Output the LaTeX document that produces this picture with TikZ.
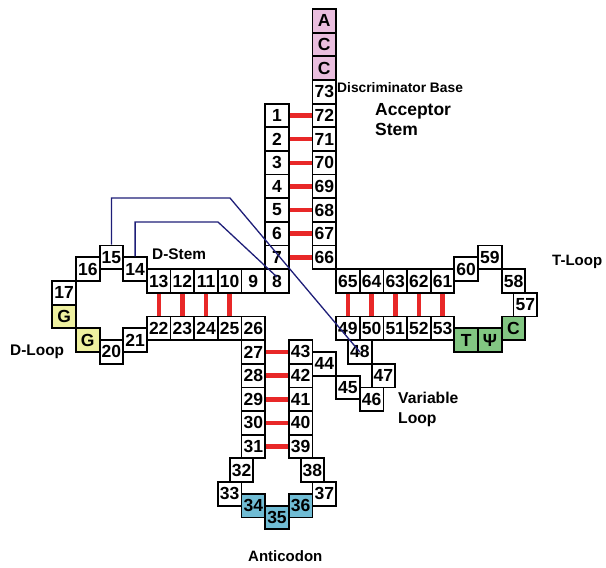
\documentclass[tikz,border=0pt]{standalone}
\usepackage{fontspec}
\setmainfont{Liberation Sans}
\definecolor{accpink}{RGB}{234,190,222}
\definecolor{gyellow}{RGB}{238,240,160}
\definecolor{tgreen}{RGB}{130,198,130}
\definecolor{acblue}{RGB}{112,188,212}
\definecolor{bondred}{RGB}{232,40,40}
\definecolor{navyline}{RGB}{30,30,120}
\tikzset{
  nbox/.style={draw=black, line width=1.8pt, fill=white, minimum size=23.65pt,
    inner sep=0pt, font=\fontsize{17.5}{17.5}\selectfont\bfseries},
  pinkb/.style={fill=accpink},
  yelb/.style={fill=gyellow},
  grnb/.style={fill=tgreen},
  blub/.style={fill=acblue},
  bond/.style={draw=bondred, line width=4.5pt},
  tert/.style={draw=navyline, line width=1.3pt},
  lbl/.style={inner sep=0pt, anchor=base west, align=left},
}
\newcommand\nb[5][]{\node[nbox,#1] (n#2) at ({277+(#3)*23.65},{281+(#4)*23.65}) {#5};}
\begin{document}
\begin{tikzpicture}[x=1pt,y=-1pt]
\useasboundingbox (0,0) rectangle (606,568);
% acceptor stem, 3' side
\nb[pinkb]{A}{2}{-11}{A}
\nb[pinkb]{C1}{2}{-10}{C}
\nb[pinkb]{C2}{2}{-9}{C}
\nb{73}{2}{-8}{73}
\nb{72}{2}{-7}{72}
\nb{71}{2}{-6}{71}
\nb{70}{2}{-5}{70}
\nb{69}{2}{-4}{69}
\nb{68}{2}{-3}{68}
\nb{67}{2}{-2}{67}
\nb{66}{2}{-1}{66}
% acceptor stem, 5' side
\nb{1}{0}{-7}{1}
\nb{2}{0}{-6}{2}
\nb{3}{0}{-5}{3}
\nb{4}{0}{-4}{4}
\nb{5}{0}{-3}{5}
\nb{6}{0}{-2}{6}
\nb{7}{0}{-1}{7}
\nb{8}{0}{0}{8}
\nb{9}{-1}{0}{9}
\nb{10}{-2}{0}{10}
\nb{11}{-3}{0}{11}
\nb{12}{-4}{0}{12}
\nb{13}{-5}{0}{13}
% D loop
\nb{14}{-6}{-0.5}{14}
\nb{15}{-7}{-1}{15}
\nb{16}{-8}{-0.5}{16}
\nb{17}{-9}{0.5}{17}
\nb[yelb]{G18}{-9}{1.5}{G}
\nb[yelb]{G19}{-8}{2.5}{G}
\nb{20}{-7}{3}{20}
\nb{21}{-6}{2.5}{21}
\nb{22}{-5}{2}{22}
\nb{23}{-4}{2}{23}
\nb{24}{-3}{2}{24}
\nb{25}{-2}{2}{25}
\nb{26}{-1}{2}{26}
% anticodon stem and loop
\nb{27}{-1}{3}{27}
\nb{28}{-1}{4}{28}
\nb{29}{-1}{5}{29}
\nb{30}{-1}{6}{30}
\nb{31}{-1}{7}{31}
\nb{32}{-1.5}{8}{32}
\nb{33}{-2}{9}{33}
\nb[blub]{34}{-1}{9.5}{34}
\nb[blub]{35}{0}{10}{35}
\nb[blub]{36}{1}{9.5}{36}
\nb{37}{2}{9}{37}
\nb{38}{1.5}{8}{38}
\nb{39}{1}{7}{39}
\nb{40}{1}{6}{40}
\nb{41}{1}{5}{41}
\nb{42}{1}{4}{42}
\nb{43}{1}{3}{43}
% variable loop
\nb{44}{2}{3.5}{44}
\nb{45}{3}{4.5}{45}
\nb{46}{4}{5}{46}
\nb{47}{4.5}{4}{47}
\nb{48}{3.5}{3}{48}
% T stem and loop
\nb{49}{3}{2}{49}
\nb{50}{4}{2}{50}
\nb{51}{5}{2}{51}
\nb{52}{6}{2}{52}
\nb{53}{7}{2}{53}
\nb[grnb]{T}{8}{2.5}{T}
\nb[grnb]{Psi}{9}{2.5}{Ψ}
\nb[grnb]{C56}{10}{2}{C}
\nb{57}{10.5}{1}{57}
\nb{58}{10}{0}{58}
\nb{59}{9}{-1}{59}
\nb{60}{8}{-0.5}{60}
\nb{61}{7}{0}{61}
\nb{62}{6}{0}{62}
\nb{63}{5}{0}{63}
\nb{64}{4}{0}{64}
\nb{65}{3}{0}{65}
% base pairs
\foreach \a/\b in {1/72,2/71,3/70,4/69,5/68,6/67,7/66,27/43,28/42,29/41,30/40,31/39}
  \draw[bond] (n\a.east) -- (n\b.west);
\foreach \a/\b in {13/22,12/23,11/24,10/25,65/49,64/50,63/51,62/52,61/53}
  \draw[bond] (n\a.south) -- (n\b.north);
% tertiary interactions
\coordinate (k1) at (230,198);
\coordinate (k2) at (218,222);
\draw[tert] (n15.north) |- (k1) -- (n48.center);
\draw[tert] (n14.north) |- (k2) -- ([yshift=4pt]n8.center);
% labels
\node[lbl, font=\fontsize{13.8}{15}\selectfont\bfseries] (ldisc) at (337,92) {Discriminator Base};
\node[lbl, font=\fontsize{17.5}{20}\selectfont\bfseries] (lacc) at (375,135) {Acceptor\\Stem};
\node[lbl, font=\fontsize{15.4}{18}\selectfont\bfseries] (ldstem) at (152,259) {D-Stem};
\node[lbl, font=\fontsize{15}{18}\selectfont\bfseries] (ltloop) at (552,265) {T-Loop};
\node[lbl, font=\fontsize{15.4}{18}\selectfont\bfseries] (ldloop) at (10,355) {D-Loop};
\node[lbl, font=\fontsize{15.7}{20}\selectfont\bfseries] (lvar) at (398,423) {Variable\\Loop};
\node[lbl, font=\fontsize{15}{18}\selectfont\bfseries] (lanti) at (248,561) {Anticodon};
\end{tikzpicture}
\end{document}
